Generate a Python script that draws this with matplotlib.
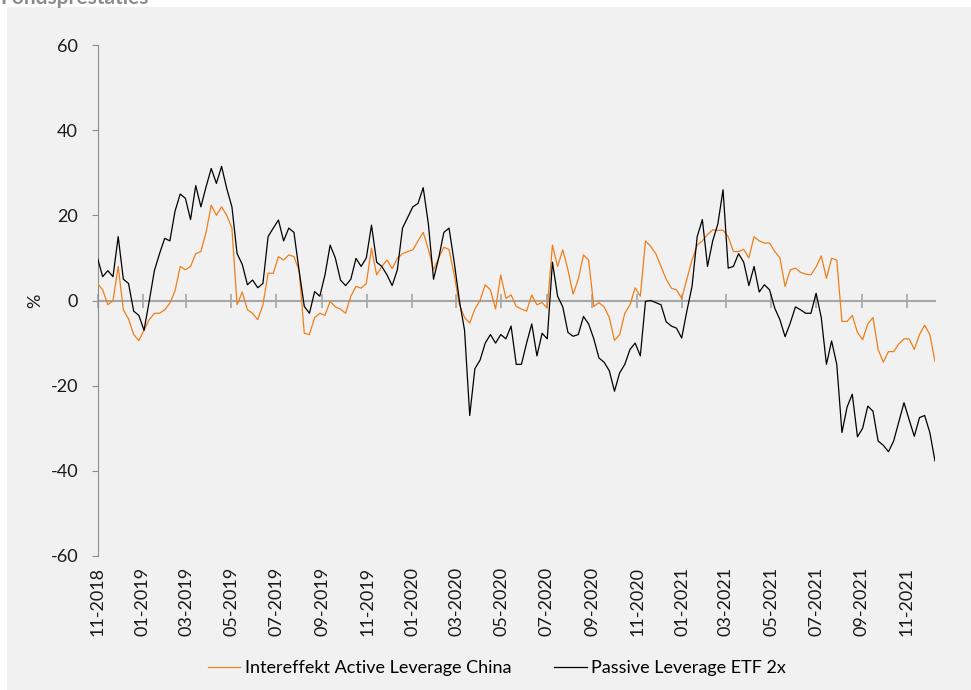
#!/usr/bin/env python
# -*- coding: utf-8 -*-

'''
    Fondsprestaties: weekly performance (%) of two leveraged China funds,
    11-2018 to 12-2021.
'''

import numpy as np
import pandas as pd
import matplotlib
matplotlib.use("Agg")
import matplotlib.pyplot as plt
import matplotlib.dates as mdates
from matplotlib.patches import Rectangle


# ---------------------------------------------------------------------------
# Data (weekly points)
# ---------------------------------------------------------------------------
start_date = "2018-11-01"

active_china = [
    4, 2.5, -1, 0, 8, -2.2, -4.3, -8, -9.4, -7,
    -4.5, -3, -3, -2.2, -0.6, 2.3, 8, 7.2, 8, 11,
    11.5, 16, 22.4, 20, 22, 20, 17, -1, 2, -2.2,
    -3, -4.5, -1, 6.4, 6.4, 10.3, 9.5, 10.7, 10.3, 7,
    -7.7,
    -8, -4, -3, -3.5, -0.2, -1.5, -2, -3, 1, 3.3,
    2.9, 4, 12.3, 6, 8, 9.5, 7.5, 9.9, 11, 11.5,
    11.9, 14, 16, 12, 7.2, 10, 12.5, 12, 6, -1,
    -4, -5.3, -2, 0, 3.7, 2.5, -2, 6, 0.5, 1.3,
    -1.4,
    -2, -2.5, 1.3, -1, -0.5, -1.8, 13, 8, 11.9, 7.2,
    1.5, 5, 10.7, 9.5, -1.4, -0.5, -1.5, -4, -9.4, -8,
    -3, -1, 3, 1, 14, 12.7, 11, 8, 5, 2.9,
    2.5, 0.5, 5, 9.5, 13, 14, 15.5, 16.6, 16.5, 16.5,
    15,
    11.5, 11.5, 12, 10, 15, 14, 13.5, 13.5, 11.5, 10,
    3.3, 7.2, 7.6, 6.6, 6.2, 6, 7.9, 10.5, 5.2, 9.9,
    9.5, -4.9, -4.9, -3.5, -7.5, -9.2, -5.5, -4, -11.5, -14.5,
    -12, -12, -10.2, -9, -9, -11.5, -8, -5.8, -8, -14.3,
]

passive_etf = [
    10, 5.6, 7, 5.6, 15, 5, 4, -2.5, -3.5, -7,
    -0.2, 7, 11, 14.6, 14, 21, 25, 24, 19, 27,
    22, 26.7, 31, 27.5, 31.5, 26.3, 22, 11, 8.5, 3.7,
    4.8, 3, 4, 15, 17, 18.9, 14, 17, 16, 7,
    -1.4,
    -3, 2.1, 1, 6, 13, 10, 4.8, 3.5, 5, 9.9,
    8, 10, 17.7, 9, 8, 6, 3.5, 7.2, 17, 19.5,
    22, 22.8, 26.5, 18, 5, 10, 16, 17, 9, 0,
    -7, -27, -16, -14, -10, -8, -10, -8, -9, -6,
    -15,
    -15, -10, -5.5, -13, -7.7, -9, 9, 1, -1.5, -7.5,
    -8.4, -8, -3.75, -5.5, -9, -13.5, -14.5, -16.5, -21.3, -17,
    -15, -11.5, -10, -13, -0.2, 0, -0.5, -1, -5, -6,
    -6.5, -8.8, -2.5, 3.3, 15, 19, 8, 14, 18, 26,
    7.6,
    8, 11, 9, 3.5, 8, 2, 3.7, 2.5, -1.8, -4.5,
    -8.5, -5.3, -1.5, -2.2, -3, -3, 1.7, -4, -15, -9.5,
    -15, -31, -25, -22, -32, -30, -24.8, -26, -33, -34,
    -35.5, -33, -28.5, -24, -28, -31.9, -27.5, -27, -31, -37.7,
]

series_labels = ["Intereffekt Active Leverage China", "Passive Leverage ETF 2x"]
series_colors = ["#EF7F1A", "#000000"]
y_ticks = [-60, -40, -20, 0, 20, 40, 60]


def main():

    plt.rcParams["font.family"] = ["Lato", "DejaVu Sans"]
    plt.rcParams["axes.unicode_minus"] = False

    dates = pd.date_range(start_date, periods=len(active_china), freq="7D")

    fig = plt.figure(figsize=(9.71, 6.90), dpi=100)
    fig.patch.set_facecolor("white")

    # light grey panel behind the chart
    panel = Rectangle((7 / 971, 0), 1, 683 / 690, transform=fig.transFigure,
                      facecolor="#F1F1F1", edgecolor="none", zorder=-10)
    fig.add_artist(panel)
    fig.text(0.0, 1 - 4 / 690, "Fondsprestaties", fontsize=15,
             fontweight="bold", color="#8C8C8C", va="baseline", ha="left")

    ax = fig.add_axes([97.5 / 971, 134 / 690, 837.5 / 971, 511 / 690])
    ax.set_facecolor("none")

    ax.plot(dates, active_china, color=series_colors[0], lw=0.9,
            label=series_labels[0], zorder=3)
    ax.plot(dates, passive_etf, color=series_colors[1], lw=0.9,
            label=series_labels[1], zorder=3)

    ax.set_ylim(-60, 60)
    ax.set_yticks(y_ticks)
    ax.set_xlim(dates[0], dates[-1])

    # category axis crosses at zero, labels stay at the bottom
    ax.xaxis.set_major_locator(mdates.MonthLocator(bymonth=[1, 3, 5, 7, 9, 11]))
    ax.spines["bottom"].set_position(("data", 0))
    ax.spines["bottom"].set_color("#A6A6A6")
    ax.spines["bottom"].set_linewidth(1.5)
    ax.spines["bottom"].set_zorder(2)
    ax.tick_params(axis="x", direction="inout", length=10, width=1.2,
                   color="#A6A6A6", labelbottom=False)

    sec = ax.secondary_xaxis("bottom")
    sec.xaxis.set_major_locator(mdates.MonthLocator(bymonth=[1, 3, 5, 7, 9, 11]))
    sec.xaxis.set_major_formatter(mdates.DateFormatter("%m-%Y"))
    sec.tick_params(axis="x", length=0, pad=8, labelsize=13,
                    labelrotation=90, labelcolor="#1A1A1A")
    sec.spines["bottom"].set_visible(False)

    ax.spines["left"].set_color("#8C8C8C")
    ax.spines["top"].set_visible(False)
    ax.spines["right"].set_visible(False)
    ax.tick_params(axis="y", direction="out", length=4.5, width=0.8,
                   color="#8C8C8C", pad=9.5, labelsize=13,
                   labelcolor="#1A1A1A")
    ax.set_ylabel("%", fontsize=13, color="#1A1A1A", labelpad=5)

    fig.legend(loc="center", bbox_to_anchor=(497 / 971, 1 - 668 / 690),
               ncol=2, frameon=False, fontsize=13, handlelength=1.8,
               handletextpad=0.25, columnspacing=2.4)

    fig.savefig("out.png", dpi=100)


if __name__ == "__main__":

    main()
